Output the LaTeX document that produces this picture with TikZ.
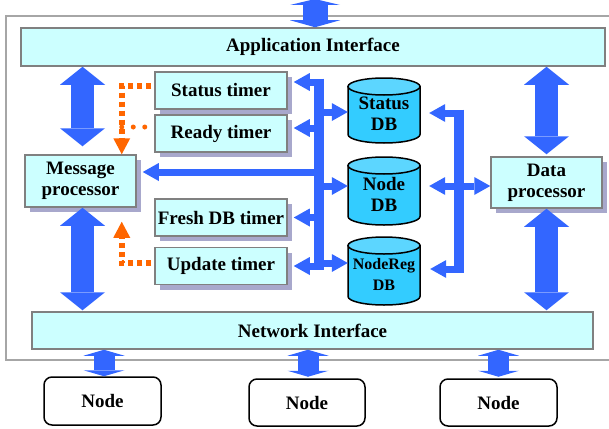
\documentclass[tikz,border=0pt]{standalone}
\usepackage{fontspec}
\setmainfont{Liberation Serif}
\usetikzlibrary{arrows.meta,shadows,calc}
\definecolor{boxfill}{HTML}{CCFFFF}
\definecolor{boxline}{HTML}{808080}
\definecolor{framec}{HTML}{A6A6A6}
\definecolor{arrowblue}{HTML}{3366FF}
\definecolor{orangec}{HTML}{FF6600}
\definecolor{shadowc}{HTML}{A8A8CC}
\definecolor{cylbody}{HTML}{33CCFF}
\definecolor{cyltop}{HTML}{5CD6FF}
\tikzset{
  lbl/.style={font=\bfseries\fontsize{19}{21}\selectfont, align=center},
  iface/.style={lbl, draw=boxline, line width=1.5pt, fill=boxfill, inner sep=0pt},
  sbox/.style={iface, drop shadow={shadow xshift=5pt, shadow yshift=-5pt, fill=shadowc, opacity=1}},
  nodebox/.style={lbl, draw=black, line width=1.5pt, rounded corners=8pt, fill=white, inner sep=0pt},
  bigarrow/.style={draw=arrowblue, line width=23pt, {Triangle[length=18pt,width=45pt,line width=0pt]}-{Triangle[length=18pt,width=45pt,line width=0pt]}},
  smallarrow/.style={draw=arrowblue, line width=21pt, {Triangle[length=6pt,width=41pt,line width=0pt]}-{Triangle[length=6pt,width=41pt,line width=0pt]}},
  toparrow/.style={draw=arrowblue, line width=25pt, {Triangle[length=6pt,width=50pt,line width=0pt]}-{Triangle[length=7pt,width=50pt,line width=0pt]}},
  conn/.style={draw=arrowblue, line width=7pt, -{Triangle[length=16pt,width=18pt,line width=0pt]}},
  dconn/.style={draw=arrowblue, line width=7pt, {Triangle[length=16pt,width=18pt,line width=0pt]}-{Triangle[length=16pt,width=18pt,line width=0pt]}},
  busline/.style={draw=arrowblue, line width=10pt},
  odash/.style={draw=orangec, line width=5.5pt, dash pattern=on 5pt off 4pt},
  odots/.style={draw=orangec, line width=5pt, line cap=round, dash pattern=on 0pt off 11.5pt},
  otip/.style={-{Triangle[length=16pt,width=17pt,line width=0pt]}},
}
% name, cx, ytop, ybot, text, font size
\newcommand{\dbcyl}[6]{%
  \path[fill=cylbody, draw=black, line width=1.5pt]
    (#2-36, #3+8.5) -- (#2-36, #4-8.5)
    .. controls (#2-36, #4-8.5+4.7) and (#2-19.9, #4) .. (#2, #4)
    .. controls (#2+19.9, #4) and (#2+36, #4-8.5+4.7) .. (#2+36, #4-8.5)
    -- (#2+36, #3+8.5) -- cycle;
  \path[fill=cyltop, draw=black, line width=1.5pt] (#2, #3+8.5) ellipse [x radius=36pt, y radius=8.5pt];
  \node[minimum width=72pt, minimum height=#4pt-#3pt, inner sep=0pt] (#1) at (#2, {(#3+#4)/2}) {};
  \node[font=\bfseries\fontsize{#6}{21}\selectfont, align=center] (#1-t) at (#2, {(#3+#4)/2+3}) {#5};
}
\begin{document}
\begin{tikzpicture}[x=1pt,y=-1pt]
\useasboundingbox (0,0) rectangle (609,428);
% outer frame
\draw[framec, line width=2pt] (6,16) rectangle (616,360);

% interfaces
\node[iface, minimum width=584pt, minimum height=38pt] (app) at (313,47) {Application Interface};
\node[iface, minimum width=561pt, minimum height=37pt] (net) at (312.5,330.5) {Network Interface};

% timers and processors
\node[sbox, minimum width=132pt, minimum height=37pt] (st) at (221,90.5) {Status timer};
\node[sbox, minimum width=132pt, minimum height=37pt] (rt) at (221,133.5) {Ready timer};
\node[sbox, minimum width=132pt, minimum height=37pt] (fdb) at (221,217.5) {Fresh DB timer};
\node[sbox, minimum width=132pt, minimum height=37pt] (ut) at (221,266) {Update timer};
\node[sbox, minimum width=111pt, minimum height=52pt] (msg) at (80.5,181) {Message\\processor};
\node[sbox, minimum width=111pt, minimum height=51pt] (dp) at (546.5,182.5) {Data\\processor};

% databases
\dbcyl{sdb}{384}{78}{143}{Status\\DB}{19}
\dbcyl{ndb}{384}{157}{225}{Node\\DB}{19}
\dbcyl{rdb}{384}{237}{305}{NodeReg\\DB}{16}

% external nodes
\node[nodebox, minimum width=117pt, minimum height=48pt] (n1) at (102.5,401) {Node};
\node[nodebox, minimum width=116pt, minimum height=47pt] (n2) at (307,402.5) {Node};
\node[nodebox, minimum width=117pt, minimum height=47pt] (n3) at (498.5,402.5) {Node};

% big arrows
\coordinate (topend) at (315,-1);
\draw[toparrow] (topend) -- ([xshift=2pt]app.north);
\draw[bigarrow] ([xshift=2pt]msg.north |- app.south) -- ([xshift=2pt,yshift=8pt]msg.north);
\draw[bigarrow] ([xshift=2pt]msg.south) -- ([xshift=2pt,yshift=1pt]msg.south |- net.north);
\draw[bigarrow] (dp.north |- app.south) -- ([yshift=2pt]dp.north);
\draw[bigarrow] (dp.south) -- ([yshift=1pt]dp.south |- net.north);
\draw[smallarrow] ([xshift=1.5pt]n1.north |- net.south) -- ([xshift=1.5pt]n1.north);
\draw[smallarrow] ([xshift=1pt]n2.north |- net.south) -- ([xshift=1pt,yshift=1.5pt]n2.north);
\draw[smallarrow] (n3.north |- net.south) -- ([yshift=1.5pt]n3.north);

% left bus
\coordinate (lbt) at (319,78.5);
\coordinate (lbb) at (319,269.5);
\draw[busline] (lbt) -- (lbb);
\coordinate (e1) at ([xshift=6pt,yshift=8.5pt]st.east);
\coordinate (e2) at ([xshift=6pt,yshift=5.5pt]rt.east);
\coordinate (e3) at ([xshift=6pt,yshift=9pt]msg.east);
\coordinate (e4) at ([xshift=6pt]fdb.east);
\coordinate (e5) at ([xshift=6pt]ut.east);
\coordinate (e6) at ([yshift=-1.5pt]sdb.west);
\coordinate (e7) at ([yshift=5pt]ndb.west);
\coordinate (e8) at ([yshift=8pt]rdb.west);
\foreach \e in {e1,e2,e3,e4,e5,e6,e7,e8}
  \draw[conn] (\e -| lbt) -- (\e);

% right bus
\coordinate (rbt) at (459,109.5);
\coordinate (rbb) at (459,272.5);
\draw[busline] (rbt) -- (rbb);
\coordinate (f1) at ([xshift=9pt,yshift=-2.5pt]sdb.east);
\coordinate (f2) at ([xshift=10pt,yshift=2pt]rdb.east);
\draw[conn] (f1 -| rbt) -- (f1);
\draw[conn] (f2 -| rbt) -- (f2);
\coordinate (f3) at ([xshift=9pt,yshift=5pt]ndb.east);
\draw[dconn] (f3) -- (f3 -| dp.west);

% orange dotted control lines
\coordinate (oc1) at ([xshift=-15pt]msg.north east);
\coordinate (oc2) at ([xshift=-15pt,yshift=-14pt]msg.south east);
\draw[odash, otip] ([xshift=-3pt,yshift=4.5pt]st.west) -| (oc1);
\coordinate (rd) at ([xshift=-9pt,yshift=6.5pt]rt.west);
\draw[odots] (rd -| oc1) -- (rd);
\draw[odash, otip] ([xshift=-3pt,yshift=3pt]ut.west) -| (oc2);
\end{tikzpicture}
\end{document}
